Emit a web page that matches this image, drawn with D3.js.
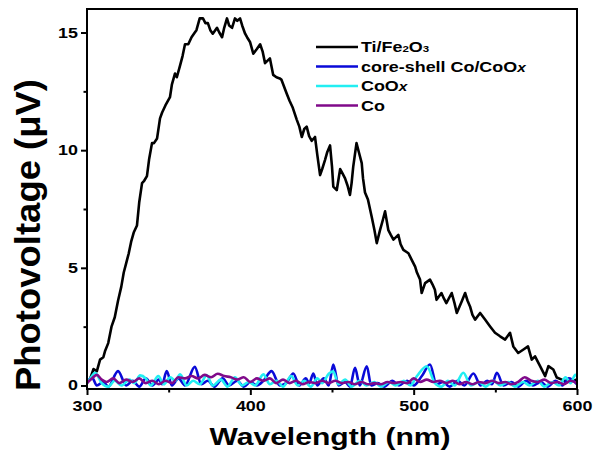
<!DOCTYPE html>
<html>
<head>
<meta charset="utf-8">
<script src="https://cdn.jsdelivr.net/npm/d3@7"></script>
<style>
body { margin: 0; background: #fff; }
svg { display: block; }
text { font-family: "Liberation Sans", Arial, sans-serif; font-weight: bold; fill: #000; }
</style>
</head>
<body>
<div id="chart"></div>
<script>
// series names / colours for the legend
var seriesNames = ["Ti/Fe2O3", "core-shell Co/CoOx", "CoOx", "Co"];
var seriesColors = ["#000000", "#0a0ad8", "#22eef2", "#800a8a"];

var xTicks = [300, 400, 500, 600];
var xMinor = [350, 450, 550];
var yTicks = [0, 5, 10, 15];
var yMinor = [2.5, 7.5, 12.5];

// [wavelength nm, photovoltage uV]
var tiFe2O3 = [
  [302,0.3],[304,0.7],[306,0.6],[308,1.1],[310,1.2],[311,1.45],[313,1.8],[315,2.5],[317,2.9],[319,3.6],
  [321,4.2],[322.5,4.8],[324,5.2],[325.5,5.6],[327,6.1],[328.6,6.5],[330.6,6.8],[332,7.8],[333.7,8.6],
  [335,8.7],[336.7,8.9],[338,9.6],[339.8,10.3],[341,10.3],[342.9,10.5],[344.7,11.35],[346,11.6],[348,11.9],
  [350.8,12.25],[352,12.8],[353.9,13.26],[355,13.1],[357,13.6],[358.5,14.0],[360,14.5],[362,14.5],[364,14.8],
  [366,15.0],[367,15.1],[369,15.6],[371,15.6],[372.5,15.4],[374,15.4],[375.5,15.1],[377,14.95],[379.6,15.2],
  [381,15.0],[382.7,14.8],[384,15.2],[385.7,15.6],[387,15.3],[388.8,15.2],[390.6,15.6],[392,15.5],[393.7,15.6],
  [395,15.3],[396.8,14.95],[398,14.8],[399.8,14.6],[401.8,14.1],[404,14.3],[406,14.5],[407.5,14.2],[409,13.7],
  [412,13.9],[414,13.2],[416,13.1],[418,13.05],[419,13.0],[422.3,12.4],[424,12.1],[426,11.8],[428.4,11.3],
  [430,11.0],[431.5,10.56],[433,10.9],[434.5,11.0],[436,10.6],[437.6,10.4],[439.6,10.56],[441,9.8],[442.7,8.94],
  [444,9.2],[445.7,9.58],[447,9.9],[448.8,10.2],[450,9.3],[450.8,8.45],[452.9,8.3],[455,9.2],[456.5,9.0],
  [458,8.8],[459.5,8.5],[461,8.1],[462,8.6],[463,9.3],[465,10.3],[466.5,9.9],[468.2,9.45],[469,8.8],[470.2,8.2],
  [472,7.9],[474.3,7.17],[476,6.6],[477.4,6.05],[479.4,6.6],[481,7.0],[482.5,7.4],[484.5,6.6],[486,6.4],
  [487.6,6.2],[490.6,6.4],[492,6.0],[493.7,5.76],[496.8,5.62],[498.8,5.34],[500.9,5.05],[502,4.8],[503.9,4.5],
  [504.9,3.93],[507,4.35],[510,4.5],[511.5,4.3],[513,4.07],[514,3.64],[517,3.93],[518.5,3.7],[520,3.5],
  [523.3,3.93],[525,3.5],[526.4,3.08],[529.4,3.57],[531.5,3.93],[533,3.6],[534.5,3.36],[536,3.0],[537.6,2.8],
  [540.7,3.08],[543.7,2.8],[546.8,2.51],[549.8,2.24],[552.9,2.09],[556,1.95],[559,2.24],[561,1.66],[564,1.38],
  [567,1.52],[570,1.66],[572.3,1.1],[574.3,1.24],[577.4,0.82],[580.5,0.4],[582.5,0.82],[585.5,0.68],
  [587.6,0.34],[590.7,0.25],[594,0.15],[598,0.2],[600,0.25]
];

var coreShell = [
  [300,0.1],[303,0.35],[306,0.0],[310,0.15],[313,-0.05],[319,0.61],[324,0.0],[328,0.2],[332,-0.05],[336,0.3],
  [340,0.0],[344,0.25],[346,0.05],[348.8,0.61],[352,0.0],[356,0.3],[360,0.0],[366,0.79],[370,0.05],[374,0.2],
  [378,-0.05],[383,0.3],[387,0.0],[392,0.2],[396,-0.05],[400,0.15],[404,0.0],[408,0.2],[413,0.61],[418,0.0],
  [422,0.1],[426.3,0.51],[430,0.0],[434,0.3],[436,0.1],[438.6,0.51],[441,0.0],[445,0.3],[448,0.0],[450.8,0.89],
  [454,0.0],[458,0.15],[461,-0.05],[464.1,0.75],[467,0.0],[471.3,0.82],[474,0.0],[478,0.1],[482,-0.05],
  [487,0.2],[491,0.0],[496,0.2],[500,0.0],[505,0.4],[510,0.89],[514,0.05],[518,0.15],[522,-0.05],[527,0.2],
  [531,0.0],[536.6,0.51],[541,0.0],[545,0.2],[548,0.05],[550.9,0.54],[555,0.0],[560,0.15],[564,-0.05],
  [569,0.2],[573,0.0],[578,0.15],[582,-0.05],[587,0.2],[591,0.0],[595,0.3],[600,0.05]
];

var coOx = [
  [300,0.1],[302,0.3],[305,0.54],[309,0.1],[313,-0.05],[317,0.2],[321,0.0],[326,0.25],[329,0.1],[332.5,0.43],
  [336,0.3],[339,0.0],[343.7,0.4],[347,0.05],[351,0.35],[354,0.2],[357,0.47],[361,0.0],[365,0.2],[369,0.05],
  [373.3,0.43],[377,0.0],[382,0.25],[386,-0.05],[390.6,0.35],[395,0.0],[399,0.15],[403,0.0],[408,0.47],
  [412,0.05],[416,0.2],[420,-0.05],[425,0.4],[429,0.0],[433,0.2],[437,-0.05],[441,0.3],[444,0.1],[448,0.5],
  [450.7,0.6],[454,0.05],[458,0.25],[462,-0.05],[467,0.2],[471,0.0],[476,0.15],[480,-0.05],[485,0.15],
  [489,0.0],[494,0.2],[498,0.0],[502,0.4],[508,0.82],[513,0.1],[517,-0.05],[521,0.2],[525,0.0],[530.4,0.54],
  [535,0.0],[540,0.15],[544,-0.05],[549,0.2],[553,0.0],[558,0.15],[562,-0.05],[567,0.15],[571,0.0],[576,0.2],
  [580,-0.05],[585,0.15],[589,0.0],[593,0.35],[596,0.1],[599,0.45],[600,0.4]
];

var co = [
  [300,0.1],[303,0.3],[306,0.45],[309,0.25],[312,0.15],[316,0.3],[320,0.1],[324,0.25],[328,0.15],[332,0.3],
  [336,0.1],[340,0.2],[344,0.05],[348,0.2],[352,0.1],[356,0.35],[360,0.3],[364,0.4],[368,0.3],[372,0.45],
  [376,0.35],[380,0.5],[384,0.4],[388,0.35],[392,0.25],[396,0.35],[400,0.15],[404,0.3],[408,0.2],[412,0.3],
  [416,0.1],[420,0.25],[424,0.1],[428,0.2],[432,0.05],[436,0.15],[440,0.1],[444,0.2],[448,0.1],[452,0.2],
  [456,0.1],[460,0.15],[464,0.05],[468,0.15],[472,0.05],[476,0.1],[480,0.05],[484,0.15],[488,0.1],[492,0.15],
  [496,0.1],[500,0.3],[504,0.15],[508,0.25],[512,0.15],[516,0.2],[520,0.1],[524,0.2],[528,0.05],[532,0.15],
  [536,0.05],[540,0.15],[544,0.1],[548,0.2],[552,0.1],[556,0.15],[560,0.05],[564,0.15],[568,0.35],[572,0.2],
  [576,0.15],[580,0.25],[584,0.1],[588,0.15],[592,0.05],[596,0.2],[600,0.1]
];

var W = 595, H = 462;
var margin = {top: 9, right: 18, bottom: 73, left: 87};
var width = W - margin.left - margin.right;
var height = H - margin.top - margin.bottom;
var sx = 1.28; // picture text is a bit stretched sideways

var svg = d3.select("#chart").append("svg")
  .attr("width", W).attr("height", H);

var g = svg.append("g")
  .attr("transform", "translate(" + margin.left + "," + margin.top + ")");

var xScale = d3.scaleLinear().domain([300, 600]).range([0, width]);
var yScale = d3.scaleLinear().domain([-0.15, 16]).range([height, 0]);

g.append("clipPath").attr("id", "clip")
  .append("rect").attr("width", width).attr("height", height);

// lines
var jagged = d3.line()
  .x(function(d){ return xScale(d[0]); })
  .y(function(d){ return yScale(d[1]); });
var smooth = d3.line()
  .x(function(d){ return xScale(d[0]); })
  .y(function(d){ return yScale(d[1]); })
  .curve(d3.curveMonotoneX);

var plotted = [
  {data: tiFe2O3, color: seriesColors[0], gen: jagged},
  {data: coreShell, color: seriesColors[1], gen: smooth},
  {data: coOx, color: seriesColors[2], gen: smooth},
  {data: co, color: seriesColors[3], gen: smooth}
];

g.append("g").attr("clip-path", "url(#clip)")
  .selectAll("path")
  .data(plotted)
  .enter().append("path")
  .attr("fill", "none")
  .attr("stroke", function(d){ return d.color; })
  .attr("stroke-width", 2.6)
  .attr("stroke-linejoin", "round")
  .attr("d", function(d){ return d.gen(d.data); });

// axes
var xAxis = d3.axisBottom(xScale).tickValues(xTicks).tickSize(6).tickPadding(6).tickFormat(d3.format("d"));
var xAxisMinor = d3.axisBottom(xScale).tickValues(xMinor).tickSize(3.5).tickFormat("");
var yAxis = d3.axisLeft(yScale).tickValues(yTicks).tickSize(6).tickPadding(5).tickFormat(d3.format("d"));
var yAxisMinor = d3.axisLeft(yScale).tickValues(yMinor).tickSize(3.5).tickFormat("");

function styleAxis(sel){
  sel.select(".domain").remove();
  sel.selectAll(".tick line").attr("stroke", "#000").attr("stroke-width", 2);
  sel.selectAll(".tick text").attr("font-size", 14).attr("fill", "#000");
}

var gx = g.append("g").attr("transform", "translate(0," + height + ")").call(xAxis).call(styleAxis);
gx.selectAll(".tick text").attr("transform", "scale(" + sx + ",1)");
g.append("g").attr("transform", "translate(0," + height + ")").call(xAxisMinor).call(styleAxis);

var gy = g.append("g").call(yAxis).call(styleAxis);
gy.selectAll(".tick text").attr("transform", "scale(" + sx + ",1)").attr("x", -9 / sx);
g.append("g").call(yAxisMinor).call(styleAxis);

// frame
g.append("rect")
  .attr("width", width).attr("height", height)
  .attr("fill", "none").attr("stroke", "#000").attr("stroke-width", 2);

// axis titles
svg.append("text")
  .attr("transform", "translate(" + (margin.left + width / 2 - 2) + ",445) scale(" + sx + ",1)")
  .attr("text-anchor", "middle")
  .attr("font-size", 23.5)
  .text("Wavelength (nm)");

svg.append("text")
  .attr("transform", "translate(40,235) rotate(-90) scale(1," + sx + ")")
  .attr("text-anchor", "middle")
  .attr("font-size", 27)
  .attr("textLength", 312)
  .attr("lengthAdjust", "spacingAndGlyphs")
  .text("Photovoltage (\u03BCV)");

// legend
var legend = svg.append("g").attr("transform", "translate(316,47)");
var rows = legend.selectAll("g").data(seriesNames).enter().append("g")
  .attr("transform", function(d, i){ return "translate(0," + (i * 19.5) + ")"; });

rows.append("line")
  .attr("x1", 0).attr("x2", 42).attr("y1", 0).attr("y2", 0)
  .attr("stroke", function(d, i){ return seriesColors[i]; })
  .attr("stroke-width", 2.6);

var labels = rows.append("text")
  .attr("transform", "translate(45,5) scale(" + sx + ",1)")
  .attr("font-size", 14);

labels.each(function(d){
  var t = d3.select(this);
  if (d === "Ti/Fe2O3") {
    t.append("tspan").text("Ti/Fe");
    t.append("tspan").attr("font-size", 9).text("2");
    t.append("tspan").text("O");
    t.append("tspan").attr("font-size", 9).text("3");
  } else if (d.slice(-1) === "x") {
    t.append("tspan").text(d.slice(0, -1));
    t.append("tspan").attr("font-style", "italic").attr("font-size", 12).text("x");
  } else {
    t.text(d);
  }
});
</script>
</body>
</html>
